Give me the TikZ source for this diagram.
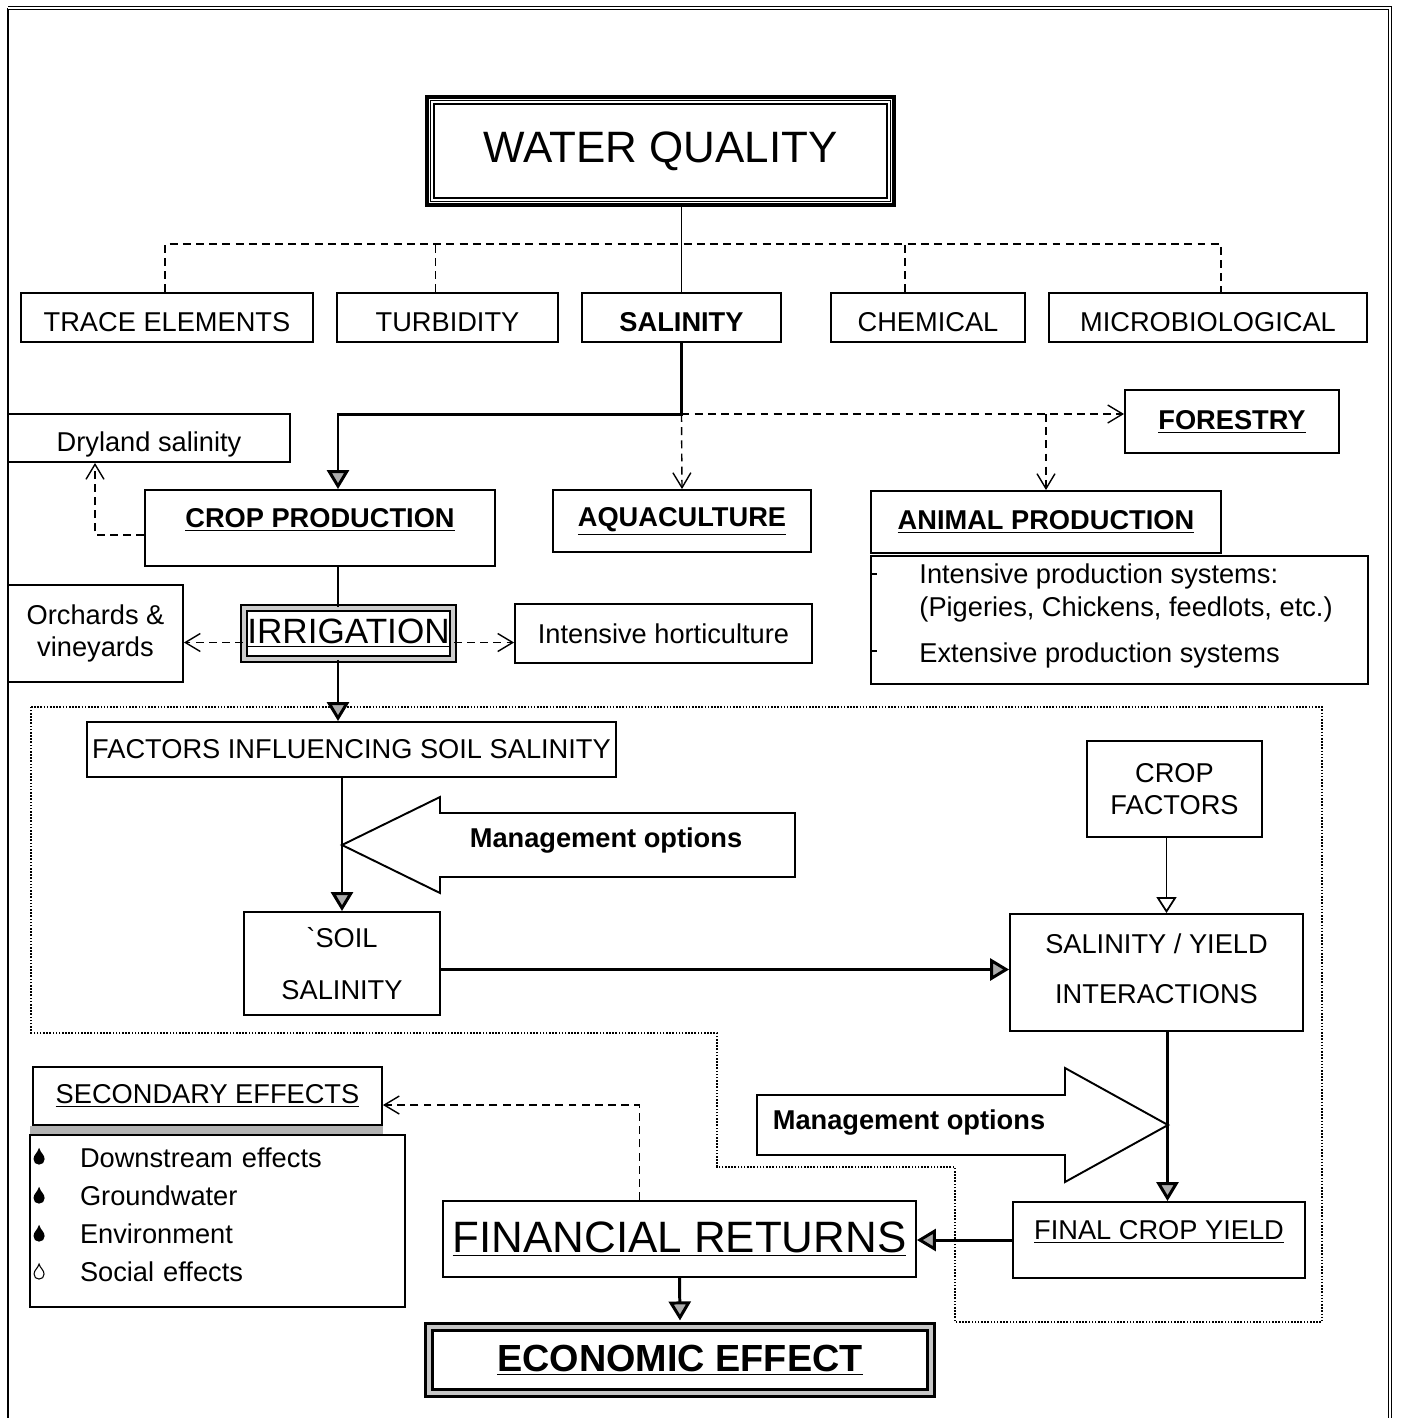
\documentclass[tikz,border=0pt]{standalone}
\usepackage{fontspec}
\setmainfont{Liberation Sans}
\usetikzlibrary{arrows.meta,calc}
\newcommand{\lblfont}{\fontsize{15.5}{18.6}\selectfont}
\tikzset{
	box/.style={draw, line width=1.1pt, inner sep=0pt, align=center, font=\lblfont},
	dline/.style={line width=0.8pt, dash pattern=on 4.5pt off 3pt},
	flow/.style={line width=1.7pt, -{Triangle[length=0.38cm,width=0.44cm,fill=gray!65]}},
	vtip/.style={-{Straight Barb[length=0.3cm,width=0.36cm]}},
	raised/.style={text height=0.4cm, text depth=#1},
	lowered/.style={text height=0.54cm, text depth=0pt},
	block/.style={line width=1.1pt, fill=white},
}
\begin{document}
\begin{tikzpicture}[x=0.02cm, y=-0.02cm]
		\useasboundingbox (0,0) rectangle (1407,1418);
		% Frame
		\draw[line width=0.8pt] (8,1418) -- (8,8);
		\draw[line width=0.7pt, double, double distance=1.2pt] (8,8) -- (1390,8) -- (1390,1418);
		% Soil salinity region
		\draw[line width=0.8pt, dash pattern=on 0.9pt off 0.9pt] (31,707) -- (1322,707) -- (1322,1322) -- (955,1322)
			-- (955,1167) -- (717,1167) -- (717,1033) -- (31,1033) -- cycle;
		% Water quality
		\node[box, line width=2pt, minimum width=9.34cm, minimum height=2.16cm,
			font=\fontsize{25}{30}\selectfont] (wq) at (660.5,151) {WATER QUALITY};
		\draw[line width=0.6pt] ($(wq.north west)+(5,5)$) rectangle ($(wq.south east)+(-5,-5)$);
		\draw[line width=1.3pt] ($(wq.north west)+(9,9)$) rectangle ($(wq.south east)+(-9,-9)$);
		% Quality parameters
		\foreach \name/\cx/\w/\txt in {trace/167/5.84/TRACE ELEMENTS, turb/447.5/4.42/TURBIDITY,
			sal/681.5/3.98/\textbf{SALINITY}, chem/928/3.88/CHEMICAL, micro/1208/6.36/MICROBIOLOGICAL}{
		\node[box, lowered, minimum width=\w cm, minimum height=0.98cm] (\name) at (\cx,317.5) {\txt};
		}
		\draw[line width=1.1pt] (wq.south -| sal.north) -- (sal.north);
		\draw[dline] ($(trace.north)+(-2,0)$) -- ++(0,-48) -| ($(micro.north)+(13,0)$);
		\draw[dline] ($(turb.north)+(-12,0)$) -- ++(0,-48);
		\draw[dline] ($(chem.north)+(-23,0)$) -- ++(0,-48);
		% Uses
		\node[box, lowered, minimum width=5.64cm, minimum height=0.96cm] (dry) at (149,438) {Dryland salinity};
		\node[box, minimum width=4.28cm, minimum height=1.26cm] (forest) at (1232,421.5) {\textbf{\underline{FORESTRY}}};
		\node[box, minimum width=7cm, minimum height=1.52cm, raised=0.42cm] (crop) at (320,528) {\textbf{\underline{CROP PRODUCTION}}};
		\node[box, minimum width=5.16cm, minimum height=1.24cm] (aqua) at (682,521) {\textbf{\underline{AQUACULTURE}}};
		\node[box, minimum width=7cm, minimum height=1.24cm] (animal) at (1046,522) {\textbf{\underline{ANIMAL PRODUCTION}}};
		\node[box, minimum width=9.94cm, minimum height=2.56cm] (alist) at (1119.5,620) {};
		\node[font=\lblfont, align=left, anchor=west, inner sep=0pt] (atext) at ($(alist.west)+(49,-4)$)
			{Intensive production systems:\\(Pigeries, Chickens, feedlots, etc.)\\[0.26cm]Extensive production systems};
		\draw[line width=0.8pt] ($(alist.north west)+(0,19)$) -- ++(7,0);
		\draw[line width=0.8pt] ($(alist.north west)+(0,96)$) -- ++(7,0);
		\coordinate (split) at (sal.south |- 0,414);
		\coordinate (spine) at (338,0);
		\draw[flow] (sal.south) -- (split) -| (crop.north -| spine);
		\draw[dline, vtip] (split) -- (aqua.north);
		\draw[dline, vtip] (split) -- (forest.west |- split);
		\draw[dline, vtip] (split -| animal.north) -- (animal.north);
		\draw[dline, vtip] ($(crop.west)+(0,7)$) -| ($(dry.south)+(-54,0)$);
		% Irrigation
		\node[box, line width=1pt, double=gray!40, double distance=2.5pt, minimum width=4.18cm, minimum height=1.02cm,
			font=\fontsize{20}{24}\selectfont] (irr) at (348.5,633.5) {\underline{IRRIGATION}};
		\node[box, minimum width=3.5cm, minimum height=1.94cm] (orch) at (95.5,633.5) {Orchards \&\\vineyards};
		\node[box, minimum width=5.94cm, minimum height=1.18cm] (hort) at (663.5,633.5) {Intensive horticulture};
		\draw[line width=1.7pt] (crop.south -| spine) -- (irr.north -| spine);
		\draw[dline, vtip] ($(irr.west)+(0,9)$) -- ($(orch.east)+(0,9)$);
		\draw[dline, vtip] ($(irr.east)+(0,9)$) -- ($(hort.west)+(0,9)$);
		% Soil salinity
		\node[box, minimum width=10.58cm, minimum height=1.1cm] (factors) at (351.5,749.5) {FACTORS INFLUENCING SOIL SALINITY};
		\node[box, minimum width=3.92cm, minimum height=2.06cm] (soil) at (342,963.5) {\textasciigrave SOIL\\[0.4cm]SALINITY};
		\draw[flow] (irr.south -| spine) -- (factors.north -| spine);
		\draw[flow] (factors.south -| soil.north) -- (soil.north);
		\draw[block] (342,845) -- (440,797) -- (440,813) -- (795,813) -- (795,877) -- (440,877) -- (440,893) -- cycle;
		\node[font=\lblfont\bfseries] (mgt1) at (606,841) {Management options};
		% Crop yield
		\node[box, minimum width=3.5cm, minimum height=1.92cm] (cropf) at (1174.5,789) {CROP\\FACTORS};
		\node[box, minimum width=5.86cm, minimum height=2.34cm] (sy) at (1156.5,972.5)
			{SALINITY / YIELD\\[0.34cm]INTERACTIONS\rule[-0.16cm]{0pt}{0.16cm}};
		\node[box, minimum width=5.84cm, minimum height=1.52cm, raised=0.42cm] (fcy) at (1159,1240) {\underline{FINAL CROP YIELD}};
		\draw[line width=1pt, -{Triangle[open,length=0.32cm,width=0.4cm]}] ($(cropf.south)+(-8,0)$) coordinate (c1) -- (c1 |- sy.north);
		\draw[flow] ($(soil.east)+(0,6)$) coordinate (s1) -- (s1 -| sy.west);
		\draw[flow] ($(sy.south)+(11,0)$) coordinate (s2) -- (s2 |- fcy.north);
		\draw[block] (1168,1125) -- (1065,1068) -- (1065,1095) -- (757,1095) -- (757,1155) -- (1065,1155) -- (1065,1182) -- cycle;
		\node[font=\lblfont\bfseries] (mgt2) at (909,1123) {Management options};
		% Returns
		\node[box, minimum width=9.46cm, minimum height=1.52cm, font=\fontsize{25}{30}\selectfont] (fin) at (679.5,1239) {\underline{FINANCIAL RETURNS}};
		\draw[flow] (fcy.west) -- (fin.east |- fcy.west);
		% Secondary effects
		\node[box, minimum width=6.98cm, minimum height=1.16cm] (sec) at (207.5,1096) {\underline{SECONDARY EFFECTS}};
		\fill[gray!60] ($(sec.south west)+(-2,0)$) rectangle ($(sec.south east)+(0,10)$);
		\node[box, text width=5.5cm, inner xsep=1cm, minimum height=3.44cm, align=left,
			font=\fontsize{15.5}{21.6}\selectfont] (slist) at (217.5,1221)
			{Downstream effects\\Groundwater\\Environment\\Social effects\rule[-0.24cm]{0pt}{0.24cm}};
		\foreach \dy/\fl in {23/black, 62/black, 100/black, 138/white}{
		\filldraw[fill=\fl, line width=0.6pt, shift={($(slist.north west)+(10,\dy)$)}]
			(0,-8) .. controls (1,-4) and (5,-2) .. (5,2) .. controls (5,5) and (3,7) .. (0,7)
			.. controls (-3,7) and (-5,5) .. (-5,2) .. controls (-5,-2) and (-1,-4) .. (0,-8) -- cycle;
		}
		\draw[dline, vtip] ($(fin.north)+(-40,0)$) |- ($(sec.east)+(0,9)$);
		% Economic effect
		\node[box, line width=1.5pt, double=gray!45, double distance=2.5pt, minimum width=10.04cm, minimum height=1.33cm,
			font=\fontsize{21.5}{26}\selectfont\bfseries] (econ) at (680,1360) {\underline{ECONOMIC EFFECT}};
		\draw[flow] (fin.south) -- ($(econ.north)+(0,-5)$);
	\end{tikzpicture}
\end{document}
